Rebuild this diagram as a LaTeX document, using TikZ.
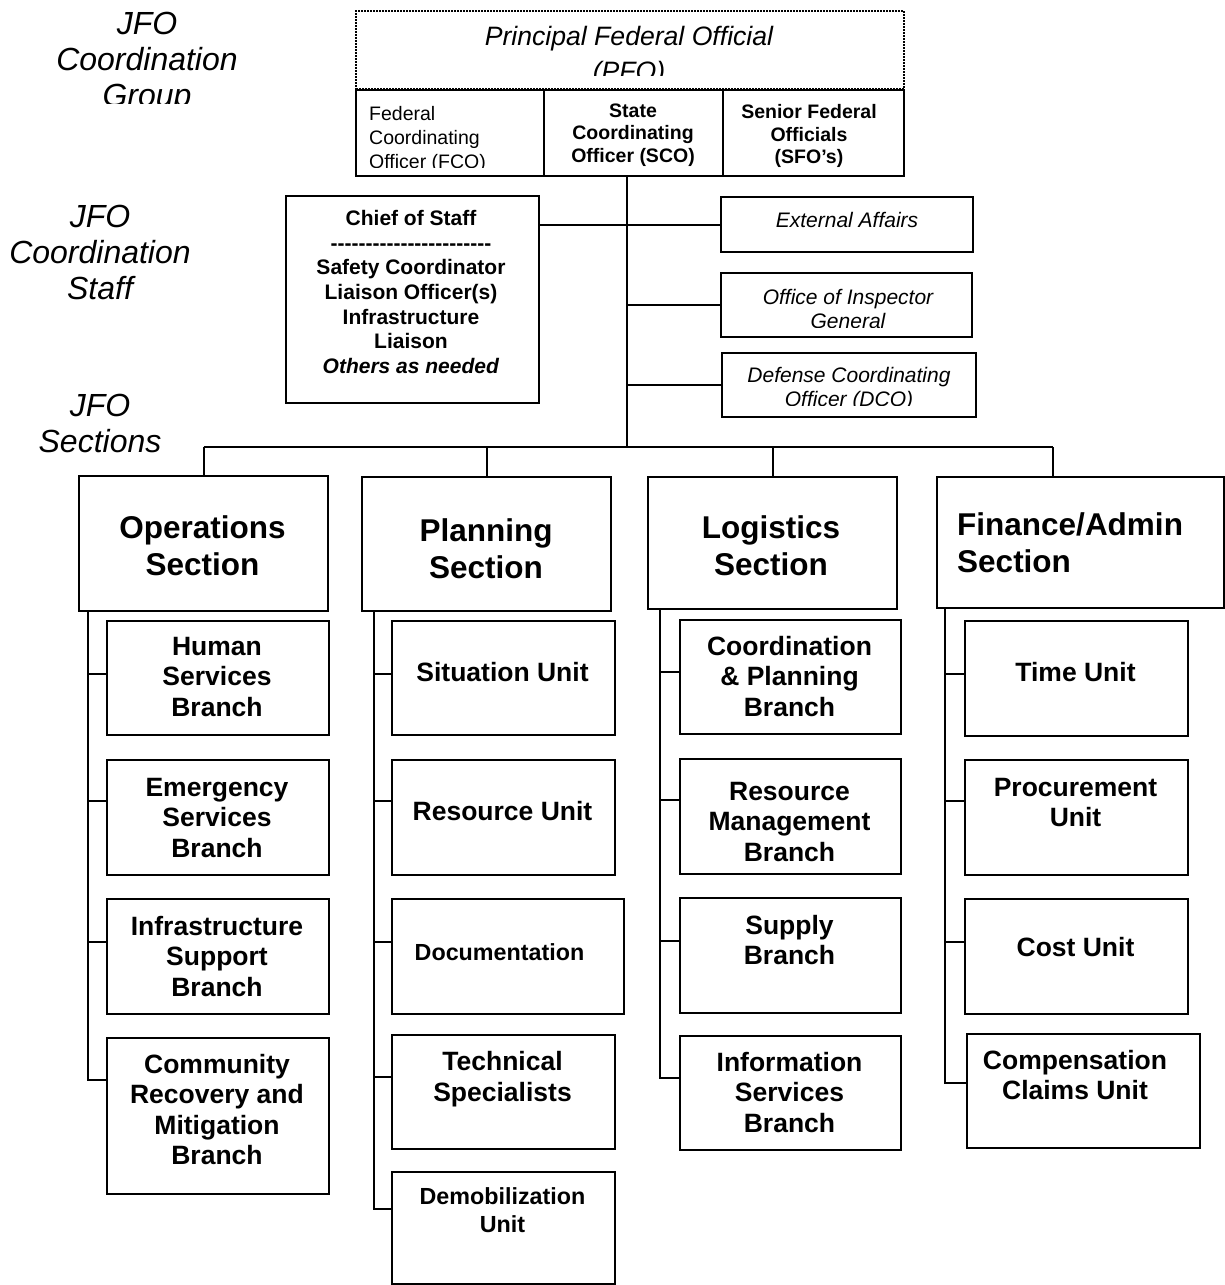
\documentclass[tikz,border=0pt]{standalone}
\usepackage{fontspec}
\setmainfont{Liberation Sans}
\newcommand\hy{\hbox{-}}
\newcommand\mkbox[6][]{\node[bx,#1,anchor=north west,minimum width={#5pt-#3pt},minimum height={#6pt-#4pt}] (#2) at (#3,#4) {};}
\tikzset{
  bx/.style={draw, line width=2.3pt, inner sep=0pt},
  ln/.style={line width=2pt},
  hd/.style={font=\fontsize{32}{36}\selectfont\itshape, align=center, inner sep=0pt},
  sec/.style={font=\fontsize{31.5}{37}\selectfont\bfseries, align=center, inner sep=0pt},
  unit/.style={font=\fontsize{26.5}{30.5}\selectfont\bfseries, align=center, inner sep=0pt},
  smallunit/.style={font=\fontsize{23.3}{28.5}\selectfont\bfseries, align=center, inner sep=0pt},
  ital/.style={font=\fontsize{21}{24}\selectfont\itshape, align=center, inner sep=0pt},
  topb/.style={font=\fontsize{19.5}{22.5}\selectfont\bfseries, align=center, inner sep=0pt},
  topr/.style={font=\fontsize{19.5}{24}\selectfont, align=left, inner sep=0pt},
  chieft/.style={font=\fontsize{21}{24.7}\selectfont\bfseries, align=center, inner sep=0pt},
  pfot/.style={font=\fontsize{26.6}{35}\selectfont\itshape, align=center, inner sep=0pt},
}
\begin{document}
\begin{tikzpicture}[x=1pt,y=-1pt]
\useasboundingbox (0,0) rectangle (1225,1285);

% ---- left headers ----
\begin{scope}
  \clip (0,0) rectangle (340,103);
  \node[hd] (hgroup) at (147,63) {JFO\\Coordination\\Group};
\end{scope}
\node[hd] (hstaff) at (100,252) {JFO\\Coordination\\Staff};
\node[hd] (hsect) at (100,423.5) {JFO\\Sections};

% ---- top group ----
\mkbox[dash pattern=on 1.6pt off 1.4pt, line width=2pt]{pfo}{355}{10}{903}{88}
\begin{scope}
  \clip (355,10) rectangle (903,75);
  \node[pfot] (pfo-t) at (629,56) {Principal Federal Official\\(PFO)};
\end{scope}
\mkbox{fco}{355}{89}{543}{175}
\mkbox{sco}{543}{89}{722}{175}
\mkbox{sfo}{722}{89}{903}{175}
\begin{scope}
  \clip (355,89) rectangle (543,167);
  \node[topr, anchor=west] (fco-t) at (369,139) {Federal\\Coordinating\\Officer (FCO)};
\end{scope}
\node[topb] (sco-t) at (633,135) {State\\Coordinating\\Officer (SCO)};
\node[topb] (sfo-t) at (809,136) {Senior Federal\\Officials\\(SFO’s)};

% ---- coordination staff ----
\mkbox{chief}{285}{195}{538}{402}
\node[chieft] (chief-t) at (411,292) {Chief of Staff\\\hy\hy\hy\hy\hy\hy\hy\hy\hy\hy\hy\hy\hy\hy\hy\hy\hy\hy\hy\hy\hy\hy\hy\\Safety Coordinator\\Liaison Officer(s)\\Infrastructure\\Liaison\\\textit{Others as needed}};
\mkbox{ext}{720}{196}{972}{251}
\node[ital] (ext-t) at (847,220) {External Affairs};
\mkbox{oig}{720}{272}{971}{336}
\begin{scope}
  \clip (720,272) rectangle (971,327);
  \node[ital] (oig-t) at (848,309) {Office of Inspector\\General};
\end{scope}
\mkbox{dco}{721}{352}{975}{416}
\begin{scope}
  \clip (721,352) rectangle (975,405);
  \node[ital] (dco-t) at (849,389) {Defense Coordinating\\Officer (DCO)};
\end{scope}

% ---- sections ----
\mkbox{ops}{78}{475}{327}{610}
\mkbox{pln}{361}{476}{610}{610}
\mkbox{log}{647}{476}{896}{608}
\mkbox{fin}{936}{476}{1223}{607}
\node[sec] (ops-t) at (202.5,546) {Operations\\Section};
\node[sec] (pln-t) at (486,549) {Planning\\Section};
\node[sec] (log-t) at (771,546) {Logistics\\Section};
\node[sec, align=left, anchor=west] (fin-t) at (957,543) {Finance/Admin\\Section};

% ---- operations ----
\mkbox{hsb}{106}{620}{328}{734}
\mkbox{esb}{106}{759}{328}{874}
\mkbox{isb}{106}{898}{328}{1013}
\mkbox{crm}{106}{1037}{328}{1193}
\node[unit] (hsb-t) at (217,677) {Human\\Services\\Branch};
\node[unit] (esb-t) at (217,818) {Emergency\\Services\\Branch};
\node[unit] (isb-t) at (217,956.5) {Infrastructure\\Support\\Branch};
\node[unit] (crm-t) at (217,1109.5) {Community\\Recovery and\\Mitigation\\Branch};

% ---- planning ----
\mkbox{sit}{391}{620}{614}{734}
\mkbox{res}{391}{759}{614}{874}
\mkbox{doc}{391}{898}{623}{1013}
\mkbox{tec}{391}{1034}{614}{1148}
\mkbox{dem}{391}{1171}{614}{1283}
\node[unit] (sit-t) at (502.5,672) {Situation Unit};
\node[unit] (res-t) at (502.5,811) {Resource Unit};
\node[smallunit] (doc-t) at (499.5,952) {Documentation};
\node[unit] (tec-t) at (502.5,1079) {Technical\\Specialists};
\node[smallunit] (dem-t) at (502.5,1210) {Demobilization\\Unit};

% ---- logistics ----
\mkbox{cpb}{679}{619}{900}{733}
\mkbox{rmb}{679}{758}{900}{873}
\mkbox{sup}{679}{897}{900}{1012}
\mkbox{isv}{679}{1035}{900}{1149}
\node[unit] (cpb-t) at (789.5,676.5) {Coordination\\\& Planning\\Branch};
\node[unit] (rmb-t) at (789.5,822) {Resource\\Management\\Branch};
\node[unit] (sup-t) at (789.5,940) {Supply\\Branch};
\node[unit] (isv-t) at (789.5,1092.5) {Information\\Services\\Branch};

% ---- finance ----
\mkbox{tim}{964}{620}{1187}{735}
\mkbox{pro}{964}{759}{1187}{874}
\mkbox{cst}{964}{898}{1187}{1013}
\mkbox{com}{966}{1033}{1199}{1147}
\node[unit] (tim-t) at (1075.5,672) {Time Unit};
\node[unit] (pro-t) at (1075.5,802.5) {Procurement\\Unit};
\node[unit] (cst-t) at (1075.5,947) {Cost Unit};
\node[unit] (com-t) at (1075,1075) {Compensation\\Claims Unit};

% ---- connectors: top ----
\coordinate (bus) at (627,447);
\coordinate (finDrop) at (1053,447);
\draw[ln] (sco.south -| bus) -- (bus);
\draw[ln] (chief.east |- ext.west) -- (ext.west);
\draw[ln] (bus |- oig.west) -- (oig.west);
\draw[ln] (bus |- dco.west) -- (dco.west);
\draw[ln] (ops.north |- bus) -- (finDrop);
\draw[ln] (ops.north |- bus) -- (ops.north);
\draw[ln] (pln.north |- bus) -- (pln.north);
\draw[ln] (log.north |- bus) -- (log.north);
\draw[ln] (finDrop) -- (finDrop |- fin.north);

% ---- connectors: spines ----
\coordinate (opsS) at (88,610);
\coordinate (plnS) at (374,610);
\coordinate (logS) at (660,608);
\coordinate (finS) at (945,607);

\draw[ln] (opsS) |- (crm.west |- 0,1080);
\draw[ln] (opsS |- 0,674) -- (hsb.west |- 0,674);
\draw[ln] (opsS |- 0,801) -- (esb.west |- 0,801);
\draw[ln] (opsS |- 0,942) -- (isb.west |- 0,942);

\draw[ln] (plnS) |- (dem.west |- 0,1209);
\draw[ln] (plnS |- 0,674) -- (sit.west |- 0,674);
\draw[ln] (plnS |- 0,801) -- (res.west |- 0,801);
\draw[ln] (plnS |- 0,942) -- (doc.west |- 0,942);
\draw[ln] (plnS |- 0,1077) -- (tec.west |- 0,1077);

\draw[ln] (logS) |- (isv.west |- 0,1078);
\draw[ln] (logS |- 0,672) -- (cpb.west |- 0,672);
\draw[ln] (logS |- 0,800) -- (rmb.west |- 0,800);
\draw[ln] (logS |- 0,941) -- (sup.west |- 0,941);

\draw[ln] (finS) |- (com.west |- 0,1083);
\draw[ln] (finS |- 0,674) -- (tim.west |- 0,674);
\draw[ln] (finS |- 0,801) -- (pro.west |- 0,801);
\draw[ln] (finS |- 0,942) -- (cst.west |- 0,942);
\end{tikzpicture}
\end{document}
